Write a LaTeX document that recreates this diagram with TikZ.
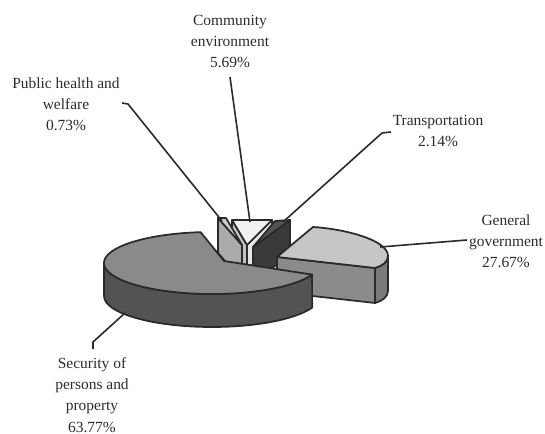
\documentclass[tikz,border=0pt]{standalone}
\usepackage{fontspec}
\setmainfont{Liberation Serif}
\definecolor{linec}{HTML}{2A2A2A}
\definecolor{textc}{HTML}{2C2C2C}
\definecolor{sectop}{HTML}{8A8A8A}
\definecolor{secwall}{HTML}{535353}
\definecolor{ggtop}{HTML}{C6C6C6}
\definecolor{ggface}{HTML}{8B8B8B}
\definecolor{ggwall}{HTML}{7A7A7A}
\definecolor{phface}{HTML}{ABABAB}
\definecolor{phtop}{HTML}{CDCDCD}
\definecolor{cetop}{HTML}{F0F0F0}
\definecolor{celeft}{HTML}{C4C4C4}
\definecolor{ceright}{HTML}{E6E6E6}
\definecolor{trface}{HTML}{3A3A3A}
\definecolor{trtop}{HTML}{525252}
\begin{document}
\begin{tikzpicture}[x=0.75pt,y=-0.75pt,line join=round,
  edge/.style={draw=linec,line width=1.3pt},
  lead/.style={draw=linec,line width=1.2pt},
  lab/.style={align=center,inner sep=0pt,text=textc,font=\fontsize{11.6pt}{15.9pt}\selectfont}]
\useasboundingbox (0,0) rectangle (545,434);

% ---- labels
\node[lab] (ce) at (230,41.5) {Community\\environment\\5.69\%};
\node[lab] (ph) at (66,104) {Public health and\\welfare\\0.73\%};
\node[lab] (tr) at (438,131) {Transportation\\2.14\%};
\node[lab] (gg) at (506,241) {General\\government\\27.67\%};
\node[lab] (sp) at (92,395) {Security of\\persons and\\property\\63.77\%};

% ---- community environment (exploded back)
\filldraw[edge,fill=celeft] (232,220) -- (247,245) -- (247,280) -- (232,255) -- cycle;
\filldraw[edge,fill=ceright] (247,245) -- (272,220) -- (272,255) -- (247,280) -- cycle;
\filldraw[edge,fill=cetop] (232,220) -- (272,220) -- (247,245) -- cycle;

% ---- public health and welfare
\filldraw[edge,fill=phface] (218,218) -- (242,245) -- (242,280) -- (218,253) -- cycle;
\filldraw[edge,fill=phtop] (218,218) -- (226,218) -- (242,245) -- cycle;

% ---- transportation
\filldraw[edge,fill=trface] (253,247) -- (290,220) -- (290,255) -- (253,282) -- cycle;
\filldraw[edge,fill=trtop] (253,247) -- (275,221) -- (290,220) -- cycle;

% ---- general government
\filldraw[edge,fill=ggface] (277,257) -- (375,268) -- (375,303) -- (277,292) -- cycle;
\filldraw[edge,fill=ggwall] (375,268) .. controls (382,266) and (388,262) .. (388,256)
   -- (388,291) .. controls (388,297) and (382,301) .. (375,303) -- cycle;
\filldraw[edge,fill=ggtop] (277,257) -- (313,227) .. controls (345,229) and (388,240) .. (388,256)
   .. controls (388,262) and (382,266) .. (375,268) -- cycle;

% ---- security of persons and property
\filldraw[edge,fill=secwall] (312.1,274.6) arc[start angle=22,end angle=180,x radius=108,y radius=31]
   -- (104,296) arc[start angle=180,end angle=22,x radius=108,y radius=31] -- cycle;
\filldraw[edge,fill=sectop] (200.7,232.2) -- (224,261) -- (312.1,274.6)
   arc[start angle=22,end angle=264,x radius=108,y radius=31] -- cycle;

% ---- leader lines
\coordinate (ceA) at (230,77);  \coordinate (ceB) at (250,222);
\coordinate (phA) at (122,103); \coordinate (phK) at (128,104); \coordinate (phB) at (222,221);
\coordinate (trA) at (391,132); \coordinate (trK) at (382,133); \coordinate (trB) at (283,222);
\coordinate (ggA) at (380,247); \coordinate (ggB) at (467,240);
\coordinate (spA) at (125,313); \coordinate (spK) at (93,342);  \coordinate (spB) at (93,349);
\draw[lead] (ceA) -- (ceB);
\draw[lead] (phA) -- (phK) -- (phB);
\draw[lead] (trA) -- (trK) -- (trB);
\draw[lead] (ggA) -- (ggB);
\draw[lead] (spA) -- (spK) -- (spB);
\end{tikzpicture}
\end{document}
